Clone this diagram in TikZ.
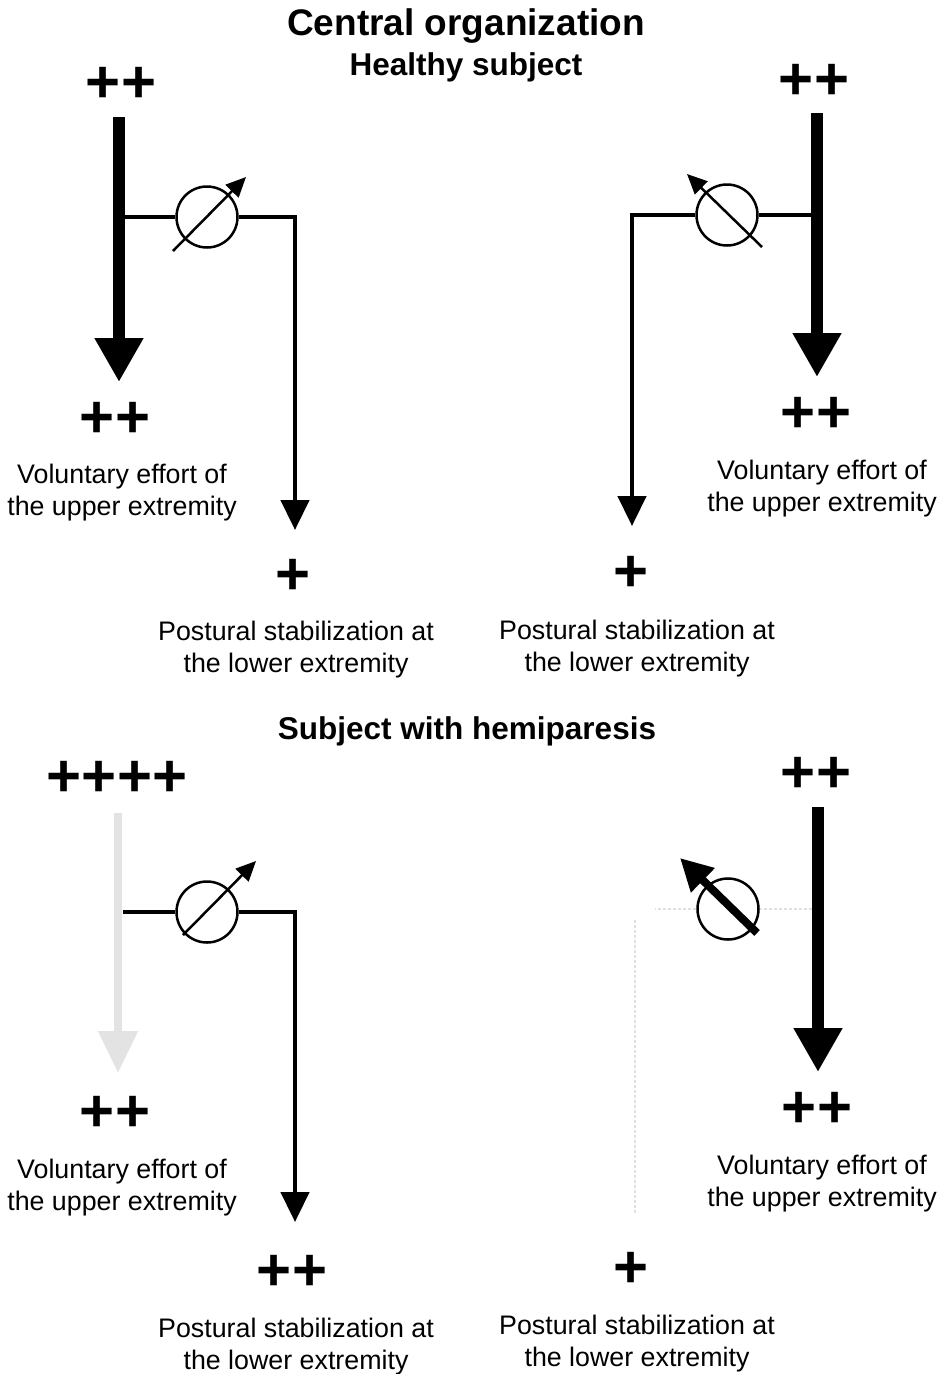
\documentclass[tikz,border=0pt]{standalone}
\usepackage{fontspec}
\setmainfont{Liberation Sans}
\usetikzlibrary{arrows.meta,calc}
\begin{document}
\begin{tikzpicture}[x=1pt,y=-1pt,
  plus/.style={font=\bfseries\fontsize{60}{60}\selectfont, inner sep=0pt},
  lbl/.style={font=\fontsize{26.8}{32}\selectfont, align=center, inner sep=0pt},
  ttl/.style={font=\bfseries\fontsize{37}{40}\selectfont, inner sep=0pt},
  sub/.style={font=\bfseries\fontsize{31.5}{34}\selectfont, inner sep=0pt},
  thickarrow/.style={line width=12pt, -{Triangle[width=46pt,length=44pt]}},
  conn/.style={line width=4.5pt},
  connarrow/.style={line width=4.5pt, line join=miter, -{Triangle[width=28pt,length=30pt]}},
  valve/.style={draw, circle, line width=2.5pt, minimum size=61pt, inner sep=0pt, fill=white},
  diag/.style={line width=2.5pt, -{Triangle[width=18pt,length=20pt]}},
  diagbold/.style={line width=8pt, -{Triangle[width=32pt,length=32pt]}},
  faintarrow/.style={line width=8pt, black!11, -{Triangle[width=38pt,length=42pt]}},
  faint/.style={line width=2pt, black!12, dash pattern=on 3pt off 2pt}
]
\useasboundingbox (0,0) rectangle (940,1374);
\fill[white] (0,0) rectangle (940,1374);

% titles
\node[ttl] (title) at (466,26) {Central organization};
\node[sub] (healthy) at (466,67) {Healthy subject};
\node[sub] (hemi) at (467,731) {Subject with hemiparesis};

% ---------- top left ----------
\node[plus] (tlTopP) at (121,85) {++};
\coordinate (tlS) at (119,117);
\coordinate (tlE) at (119,382);
\draw[thickarrow] (tlS) -- (tlE);
\node[valve] (tlC) at (207,217) {};
\coordinate (tlB) at (tlC -| tlS);
\coordinate (tlT) at (295,530);
\draw[conn] (tlB) -- (tlC.west);
\draw[connarrow] (tlC.east) -| (tlT);
\draw[diag] ($(tlC)+(-34,34)$) -- ($(tlC)+(39,-40)$);
\node[plus] (tlUpP) at (115,420) {++};
\node[lbl] (tlUpL) at (122,493) {Voluntary effort of\\the upper extremity};
\node[plus] (tlLoP) at (293,577) {+};
\node[lbl] (tlLoL) at (296,650) {Postural stabilization at\\the lower extremity};

% ---------- top right ----------
\node[plus] (trTopP) at (814,82) {++};
\coordinate (trS) at (817,113);
\coordinate (trE) at (817,377);
\draw[thickarrow] (trS) -- (trE);
\node[valve] (trC) at (727,215) {};
\coordinate (trB) at (trC -| trS);
\coordinate (trT) at (632,526);
\draw[conn] (trB) -- (trC.east);
\draw[connarrow] (trC.west) -| (trT);
\draw[diag] ($(trC)+(35,32)$) -- ($(trC)+(-40,-41)$);
\node[plus] (trUpP) at (816,415) {++};
\node[lbl] (trUpL) at (822,489) {Voluntary effort of\\the upper extremity};
\node[plus] (trLoP) at (631,574) {+};
\node[lbl] (trLoL) at (637,649) {Postural stabilization at\\the lower extremity};

% ---------- bottom left ----------
\node[plus] (blTopP) at (117,779) {++++};
\coordinate (blS) at (118,813);
\coordinate (blE) at (118,1073);
\draw[faintarrow] (blS) -- (blE);
\node[valve] (blC) at (207,912) {};
\coordinate (blB) at (123,912);
\coordinate (blT) at (295,1222);
\draw[conn] (blB) -- (blC.west);
\draw[connarrow] (blC.east) -| (blT);
\draw[diag] ($(blC)+(-24,23)$) -- ($(blC)+(49,-51)$);
\node[plus] (blUpP) at (115,1114) {++};
\node[lbl] (blUpL) at (122,1188) {Voluntary effort of\\the upper extremity};
\node[plus] (blLoP) at (292,1273) {++};
\node[lbl] (blLoL) at (296,1347) {Postural stabilization at\\the lower extremity};

% ---------- bottom right ----------
\node[plus] (brTopP) at (816,775) {++};
\coordinate (brS) at (818,807);
\coordinate (brE) at (818,1072);
\draw[thickarrow] (brS) -- (brE);
\node[valve] (brC) at (728,909) {};
\coordinate (brB) at (812,909);
\coordinate (brK0) at (655,909);
\coordinate (brK) at (635,920);
\coordinate (brT) at (635,1213);
\draw[faint] (brB) -- (brC.east);
\draw[faint] (brC.west) -- (brK0);
\draw[faint] (brK) -- (brT);
\draw[diagbold] ($(brC)+(29,24)$) -- ($(brC)+(-48,-51)$);
\node[plus] (brUpP) at (817,1110) {++};
\node[lbl] (brUpL) at (822,1184) {Voluntary effort of\\the upper extremity};
\node[plus] (brLoP) at (631,1270) {+};
\node[lbl] (brLoL) at (637,1344) {Postural stabilization at\\the lower extremity};
\end{tikzpicture}
\end{document}
